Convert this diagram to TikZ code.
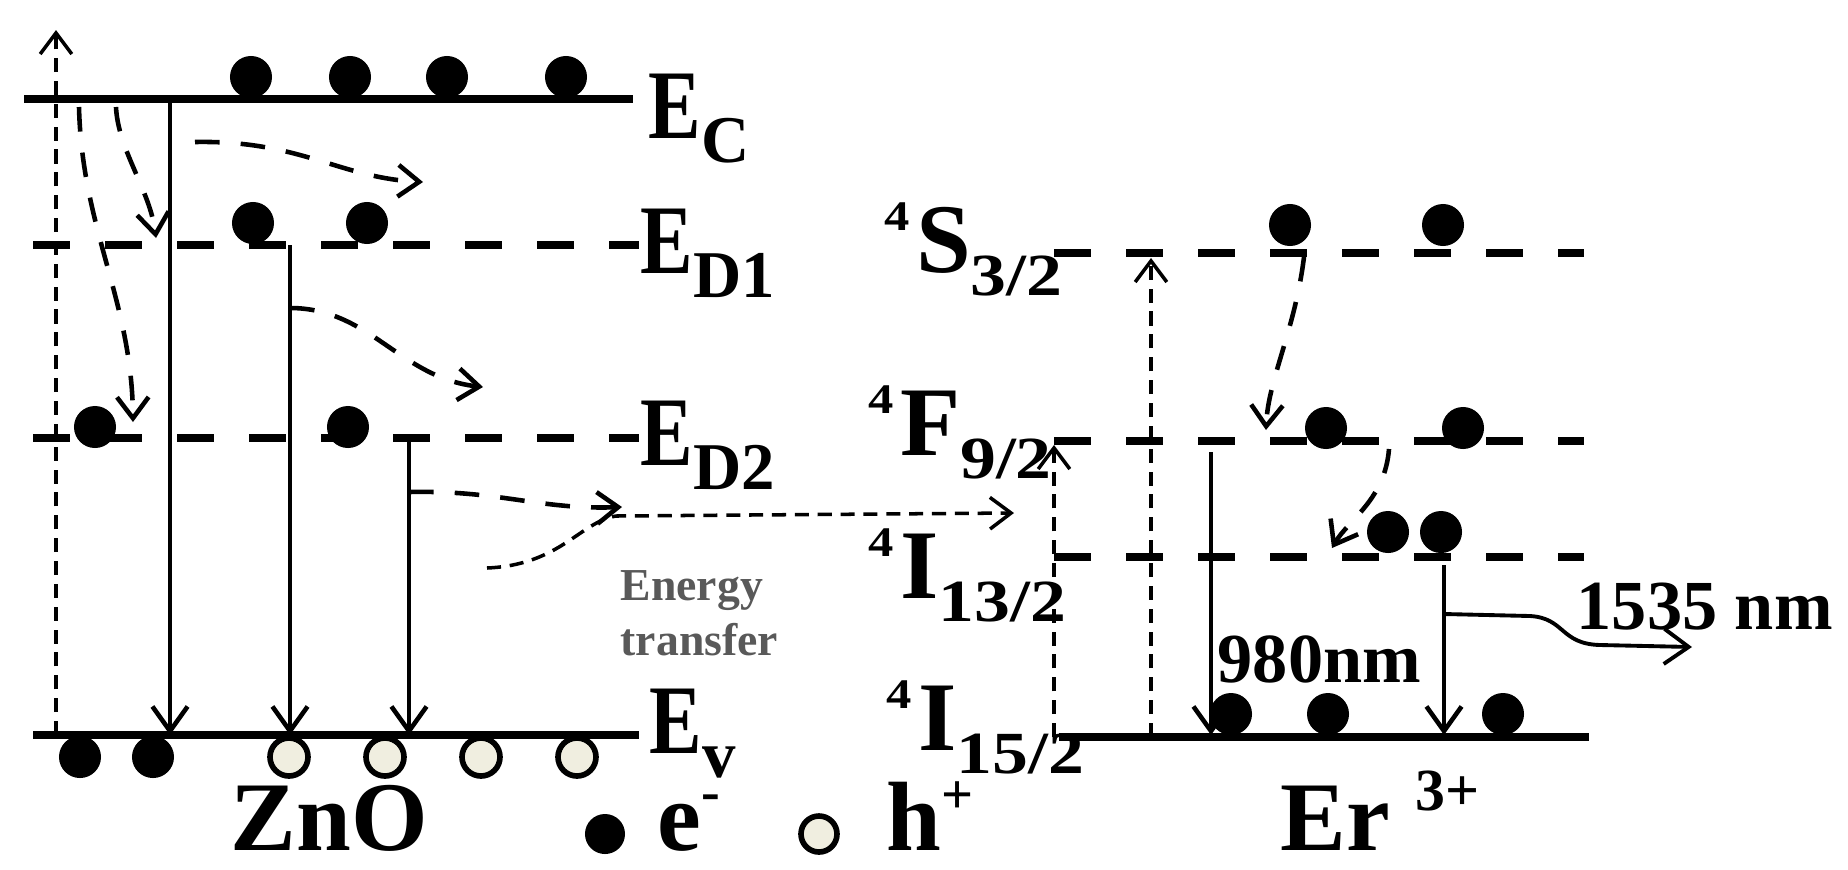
\documentclass[tikz,border=0pt]{standalone}
\usepackage{fontspec}
\setmainfont{Liberation Serif}
\newfontfamily\narrowrm[FakeStretch=0.8]{Liberation Serif}
\newfontfamily\widerm[FakeStretch=1.2]{Liberation Serif}
\usetikzlibrary{arrows.meta}

\definecolor{holefill}{RGB}{240,238,224}
\newcommand\lsub[1]{\raisebox{-0.24cm}{\rmfamily\fontsize{19}{20}\selectfont #1}}
\newcommand\term[3]{\raisebox{0.41cm}{\widerm\fontsize{12}{12}\selectfont #1}\hspace{0.06cm}#2\raisebox{-0.23cm}{\widerm\fontsize{17}{17}\selectfont #3}}

\tikzset{
  band/.style={line width=2.4pt},
  dlevel/.style={line width=2.4pt,dash pattern=on 0.37cm off 0.35cm},
  emit/.style={line width=1.3pt,-{Straight Barb[length=7pt,width=10pt]}},
  pump/.style={line width=1pt,dash pattern=on 4pt off 2.5pt,-{Straight Barb[length=6pt,width=9pt]}},
  hop/.style={line width=1.3pt,dash pattern=on 7pt off 6pt,-{Straight Barb[length=6pt,width=9pt]}},
  elec/.style={fill=black},
  hole/.style={draw=black,line width=1.6pt,fill=holefill},
  lab/.style={inner sep=0pt,font=\narrowrm\bfseries\fontsize{28}{30}\selectfont},
  erlab/.style={inner sep=0pt,font=\rmfamily\bfseries\fontsize{28}{30}\selectfont},
  note/.style={inner sep=0pt,font=\bfseries\fontsize{20}{22}\selectfont},
  small/.style={inner sep=0pt,font=\bfseries\fontsize{13}{14}\selectfont,text=black!65},
}

\begin{document}
\begin{tikzpicture}[x=0.01cm,y=-0.01cm]
\useasboundingbox (0,0) rectangle (1848,869);
% ZnO levels
\draw[band] (24,99) -- (633,99);
\draw[dlevel] (33,245) -- (639,245);
\draw[dlevel] (33,438) -- (639,438);
\draw[band] (33,735) -- (639,735);
% Er levels
\draw[dlevel] (1054,253) -- (1584,253);
\draw[dlevel] (1054,441) -- (1584,441);
\draw[dlevel] (1054,557) -- (1584,557);
\draw[band] (1059,737) -- (1589,737);

% carriers
\foreach \x in {251,350,447,566} \fill[elec] (\x,77) circle[radius=0.21cm];
\foreach \x in {253,367} \fill[elec] (\x,223) circle[radius=0.21cm];
\foreach \x in {95,348} \fill[elec] (\x,427) circle[radius=0.21cm];
\foreach \x in {80,153} \fill[elec] (\x,757) circle[radius=0.21cm];
\foreach \x in {289,385,481,577} \path[hole] (\x,757) circle[radius=0.19cm];
\foreach \x in {1290,1443} \fill[elec] (\x,225) circle[radius=0.21cm];
\foreach \x in {1326,1463} \fill[elec] (\x,428) circle[radius=0.21cm];
\foreach \x in {1388,1441} \fill[elec] (\x,532) circle[radius=0.21cm];
\foreach \x in {1231,1328,1503} \fill[elec] (\x,714) circle[radius=0.21cm];

% transitions in ZnO
\draw[pump] (56,735) -- (56,30);
\draw[emit] (170,99) -- (170,735);
\draw[emit] (290,245) -- (290,735);
\draw[emit] (409,438) -- (409,735);
\draw[hop] (79,107) .. controls (82,230) and (132,300) .. (133,422);
\draw[hop] (116,107) .. controls (118,150) and (150,190) .. (156,238);
\draw[hop] (195,142) .. controls (300,140) and (340,178) .. (423,182);
\draw[hop] (290,308) .. controls (370,308) and (400,378) .. (483,387);
\draw[hop] (409,492) .. controls (500,490) and (540,510) .. (622,507);
\draw[pump] (487,568) .. controls (560,565) and (580,522) .. (616,516) -- (1014,513);

% transitions in Er
\draw[pump] (1054,737) -- (1054,445);
\draw[pump] (1151,737) -- (1151,258);
\draw[emit] (1211,452) -- (1211,735);
\draw[emit] (1444,565) -- (1444,735);
\draw[hop] (1304,257) .. controls (1295,330) and (1268,380) .. (1266,430);
\draw[hop] (1389,449) .. controls (1385,500) and (1348,520) .. (1332,548);
\draw[emit,line width=1.1pt] (1444,614) -- (1530,616) .. controls (1565,618) and (1560,644) .. (1600,645) -- (1692,647);

% labels
\node[lab,anchor=base west] (ec) at (648,138) {E\lsub{C}};
\node[lab,anchor=base west] (ed1) at (640,273) {E\lsub{D1}};
\node[lab,anchor=base west] (ed2) at (640,465) {E\lsub{D2}};
\node[lab,anchor=base west] (ev) at (649,753) {E\lsub{v}};
\node[erlab,anchor=base west] (s32) at (884,272) {\term{4}{S}{3/2}};
\node[erlab,anchor=base west] (f92) at (868,455) {\term{4}{F}{9/2}};
\node[erlab,anchor=base west] (i132) at (868,598) {\term{4}{I}{13/2}};
\node[erlab,anchor=base west] (i152) at (886,750) {\term{4}{I}{15/2}};
\node[note,anchor=base west] (w980) at (1217,682) {980nm};
\node[note,anchor=base west] (w1535) at (1576,629) {1535 nm};
\node[small,anchor=base west] (et1) at (620,600) {Energy};
\node[small,anchor=base west] (et2) at (620,655) {transfer};
\node[erlab,anchor=base west] (zno) at (230,850) {ZnO};
\node[erlab,anchor=base west] (er) at (1280,850) {Er\hspace{0.25cm}\raisebox{0.39cm}{\rmfamily\fontsize{17}{18}\selectfont 3+}};

% legend
\fill[elec] (605,834) circle[radius=0.2cm];
\node[erlab,anchor=base west] (el) at (657,850) {e\raisebox{0.39cm}{\fontsize{16}{16}\selectfont -}};
\path[hole] (819,834) circle[radius=0.18cm];
\node[erlab,anchor=base west] (hl) at (886,850) {h\raisebox{0.36cm}{\fontsize{16}{16}\selectfont +}};
\end{tikzpicture}
\end{document}
